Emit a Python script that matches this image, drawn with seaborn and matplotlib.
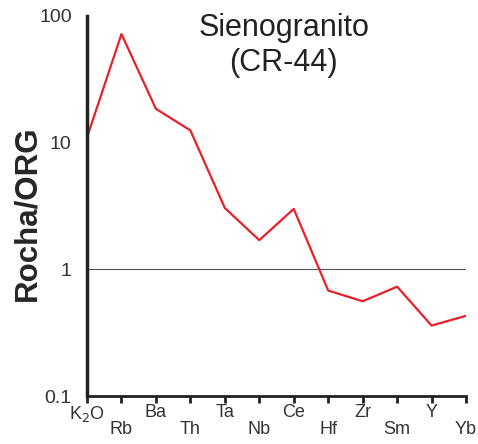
import numpy as np
import pandas as pd
import matplotlib
matplotlib.use("Agg")
import matplotlib.pyplot as plt
import seaborn as sns

# elements along the spider diagram
elements = ["K$_2$O", "Rb", "Ba", "Th", "Ta", "Nb", "Ce", "Hf", "Zr", "Sm", "Y", "Yb"]
# rock / ORG normalised values
values = [11.0, 72.0, 18.5, 12.5, 3.05, 1.7, 3.0, 0.68, 0.56, 0.73, 0.36, 0.43]
ytick_vals = [0.1, 1, 10, 100]
ytick_labels = ["0.1", "1", "10", "100"]

sns.set_theme(style="white")
plt.rcParams["font.family"] = ["Liberation Sans", "DejaVu Sans"]

df = pd.DataFrame({"pos": np.arange(len(elements)), "val": values})

fig = plt.figure(figsize=(4.78, 4.44), dpi=100)
ax = fig.add_axes([0.182, 0.108, 0.793, 0.856])

sns.lineplot(data=df, x="pos", y="val", ax=ax, color="#e8202a", linewidth=1.6)
ax.axhline(1, color="#555555", linewidth=0.8, zorder=0)

ax.set_yscale("log")
ax.set_ylim(0.1, 100)
ax.set_xlim(0, len(elements) - 1)

ax.set_yticks(ytick_vals)
ax.set_yticklabels(ytick_labels)
ax.yaxis.set_minor_locator(matplotlib.ticker.NullLocator())
ax.tick_params(axis="y", length=0, pad=11, labelsize=14, labelcolor="#333333")

ax.set_xticks(df["pos"])
ax.set_xticklabels(elements)
ax.tick_params(axis="x", direction="out", length=5, width=2, color="#222222",
               labelsize=13, labelcolor="#333333", pad=1, bottom=True)
for i, t in enumerate(ax.xaxis.get_major_ticks()):
    if i % 2 == 1:
        t.set_pad(13)

for s in ["top", "right"]:
    ax.spines[s].set_visible(False)
ax.spines["left"].set_linewidth(2.5)
ax.spines["left"].set_color("#222222")
ax.spines["bottom"].set_linewidth(2)
ax.spines["bottom"].set_color("#222222")

ax.set_xlabel("")
ax.set_ylabel("Rocha/ORG", fontsize=22.5, fontweight="bold")
ax.yaxis.set_label_coords(-0.119, 0.48)

fig.text(0.594, 0.97, "Sienogranito\n(CR-44)", ha="center", va="top",
         fontsize=22, color="#222222", linespacing=1.2)

fig.savefig("out.png", dpi=100)
